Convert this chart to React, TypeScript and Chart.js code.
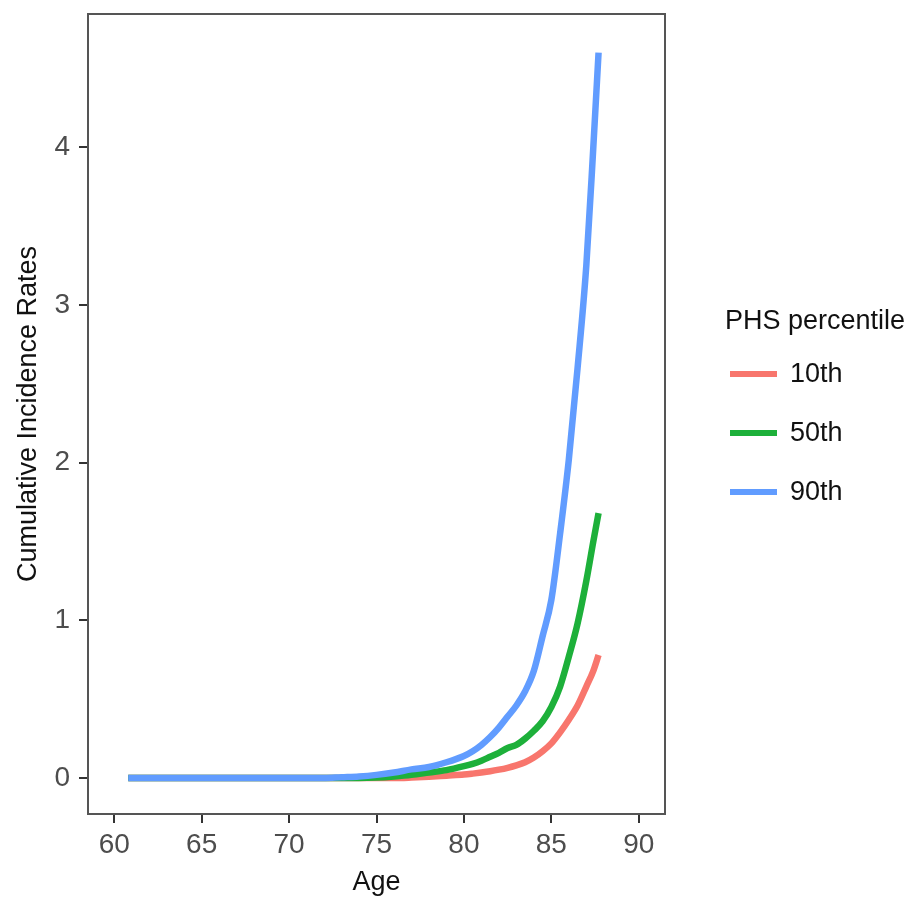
import React, { useEffect, useRef } from "react";
import { Chart, registerables } from "chart.js";

Chart.register(...registerables);

const AGES = [60.8, 62, 64, 66, 68, 70, 72, 73, 74, 75, 76, 77, 78, 79, 80, 80.5, 81, 81.5, 82, 82.5, 83, 83.5, 84, 84.5, 85, 85.5, 86, 86.5, 87, 87.4, 87.7];
const P10 = [0, 0, 0, 0, 0, 0, 0, 0, 0, 0, 0, 0.003, 0.008, 0.015, 0.022, 0.028, 0.035, 0.043, 0.053, 0.065, 0.08, 0.1, 0.13, 0.17, 0.22, 0.29, 0.37, 0.46, 0.58, 0.68, 0.78];
const P50 = [0, 0, 0, 0, 0, 0, 0, 0, 0, 0.003, 0.01, 0.02, 0.035, 0.05, 0.075, 0.09, 0.11, 0.135, 0.16, 0.19, 0.21, 0.25, 0.3, 0.36, 0.45, 0.58, 0.77, 0.98, 1.25, 1.5, 1.68];
const P90 = [0, 0, 0, 0, 0, 0, 0, 0.005, 0.01, 0.02, 0.035, 0.055, 0.07, 0.1, 0.14, 0.17, 0.21, 0.26, 0.32, 0.39, 0.46, 0.55, 0.68, 0.9, 1.13, 1.55, 2.02, 2.6, 3.25, 4.0, 4.6];

const SERIES_LABELS = ["10th", "50th", "90th"];
const SERIES_COLORS = ["#F8766D", "#1DB03A", "#619CFF"];
const X_TICKS = [60, 65, 70, 75, 80, 85, 90];
const Y_TICKS = [0, 1, 2, 3, 4];
const LEGEND_TITLE = "PHS percentile";
const X_TITLE = "Age";
const Y_TITLE = "Cumulative Incidence Rates";

const FONT = "'Liberation Sans', Arial, Helvetica, sans-serif";

const boxAndLegend = {
  id: "boxAndLegend",
  afterDraw(chart: any) {
    const { ctx, chartArea } = chart;
    ctx.save();
    ctx.strokeStyle = "#555555";
    ctx.lineWidth = 2;
    ctx.strokeRect(chartArea.left, chartArea.top, chartArea.right - chartArea.left, chartArea.bottom - chartArea.top);

    const cy = (chartArea.top + chartArea.bottom) / 2;
    const lx = chartArea.right;
    ctx.fillStyle = "#111111";
    ctx.font = `27px ${FONT}`;
    ctx.textBaseline = "middle";
    ctx.textAlign = "left";
    ctx.fillText(LEGEND_TITLE, lx + 60, cy - 92);
    chart.data.datasets.forEach((ds: any, i: number) => {
      const y = cy - 40 + i * 59;
      ctx.strokeStyle = ds.borderColor;
      ctx.lineWidth = 6;
      ctx.lineCap = "butt";
      ctx.beginPath();
      ctx.moveTo(lx + 65, y);
      ctx.lineTo(lx + 112, y);
      ctx.stroke();
      ctx.fillStyle = "#111111";
      ctx.fillText(ds.label, lx + 125, y + 1);
    });
    ctx.restore();
  },
};

export default function App() {
  const ref = useRef<HTMLCanvasElement | null>(null);
  useEffect(() => {
    document.body.style.margin = "0";
    const mk = (vals: number[]) => AGES.map((a, i) => ({ x: a, y: vals[i] }));
    const chart = new Chart(ref.current as HTMLCanvasElement, {
      type: "line",
      data: {
        datasets: [P10, P50, P90].map((vals, i) => ({
          label: SERIES_LABELS[i],
          data: mk(vals),
          borderColor: SERIES_COLORS[i],
          backgroundColor: SERIES_COLORS[i],
          borderWidth: 6.5,
          pointRadius: 0,
          order: 2 - i,
          cubicInterpolationMode: "monotone" as const,
          borderCapStyle: "butt" as const,
        })),
      },
      options: {
        animation: false,
        responsive: false,
        layout: { padding: { top: 14, right: 244, left: 0, bottom: 0 } },
        plugins: { legend: { display: false }, tooltip: { enabled: false } },
        scales: {
          x: {
            type: "linear",
            min: 58.5,
            max: 91.5,
            afterBuildTicks: (s: any) => { s.ticks = X_TICKS.map((v) => ({ value: v })); },
            afterFit: (s: any) => { s.height = 87; s.paddingLeft = 0; s.paddingRight = 0; },
            grid: { drawOnChartArea: false, drawTicks: true, tickLength: 9, color: "#333333", lineWidth: 2 },
            border: { display: false },
            ticks: { color: "#4D4D4D", font: { size: 28, family: FONT }, padding: 5, maxRotation: 0, autoSkip: false },
            title: { display: true, text: X_TITLE, color: "#111111", font: { size: 27, family: FONT }, padding: { top: 0, bottom: 2 } },
          },
          y: {
            type: "linear",
            min: -0.228,
            max: 4.845,
            afterBuildTicks: (s: any) => { s.ticks = Y_TICKS.map((v) => ({ value: v })); },
            afterFit: (s: any) => { s.width = 88; s.paddingTop = 0; s.paddingBottom = 0; },
            grid: { drawOnChartArea: false, drawTicks: true, tickLength: 9, color: "#333333", lineWidth: 2 },
            border: { display: false },
            ticks: { color: "#4D4D4D", font: { size: 28, family: FONT }, padding: 9, autoSkip: false },
            title: { display: true, text: Y_TITLE, color: "#111111", font: { size: 27, family: FONT }, padding: { top: 12, bottom: 0 } },
          },
        },
      },
      plugins: [boxAndLegend],
    });
    return () => chart.destroy();
  }, []);
  return (
    <div style={{ width: 909, height: 901, background: "#ffffff" }}>
      <canvas ref={ref} width={909} height={901} style={{ display: "block" }} />
    </div>
  );
}
